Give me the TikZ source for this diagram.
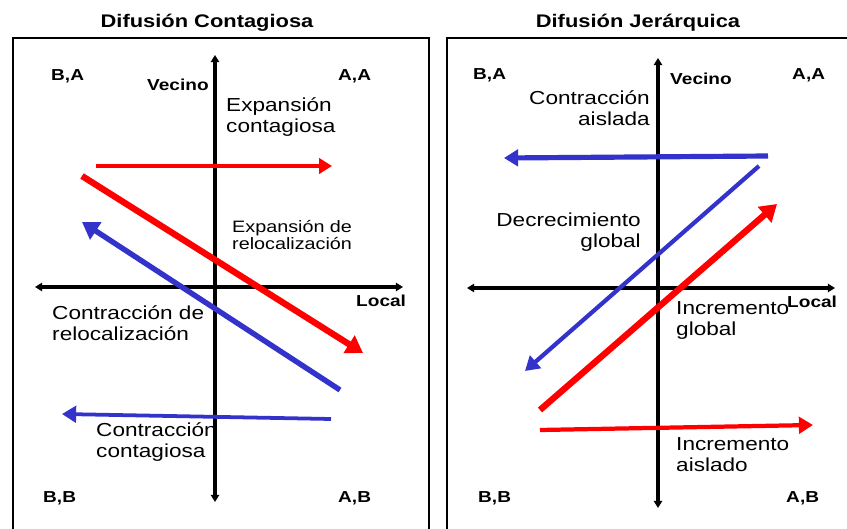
\documentclass[tikz,border=0pt]{standalone}
\usepackage{fontspec}
\setmainfont{Liberation Sans}[FakeStretch=1.2]
\usepackage{xcolor}
\usetikzlibrary{arrows.meta}
\definecolor{difred}{RGB}{255,0,0}
\definecolor{difblue}{RGB}{51,51,204}
\tikzset{
    panelline/.style={line width=1.8pt},
    axisline/.style={line width=2.8pt,{Triangle[length=6pt,width=7pt]}-{Triangle[length=6pt,width=7pt]}},
    cornerlabel/.style={anchor=base west,inner sep=0pt,font=\fontsize{13.5}{15}\bfseries\selectfont},
    titlelabel/.style={anchor=base,inner sep=0pt,font=\fontsize{15.5}{17}\bfseries\selectfont},
    biglabel/.style={inner sep=0pt,font=\fontsize{16}{18}\selectfont},
    smalllabel/.style={inner sep=0pt,font=\fontsize{14}{14.5}\selectfont},
    thinflow/.style={line width=2.6pt,-{Triangle[length=11pt,width=13pt]}},
    midflow/.style={line width=3.6pt,-{Triangle[length=12pt,width=14pt]}},
    thickflow/.style={line width=5.4pt,-{Triangle[length=14pt,width=17pt]}}
}
\begin{document}
\begin{tikzpicture}[x=0.85pt,y=-0.85pt]
    \useasboundingbox (0,0) rectangle (847,529);
    % panels
    \draw[panelline] (13,529) -- (13,38) -- (429,38) -- (429,529);
    \draw[panelline] (447,529) -- (447,38) -- (847,38);
    \node[titlelabel] (tcont) at (207,28) {Difusión Contagiosa};
    \node[titlelabel] (tjer) at (638,28) {Difusión Jerárquica};
    % axes
    \coordinate (lvtop) at (215,55);
    \coordinate (lvbot) at (215,502);
    \coordinate (lhl) at (35,287);
    \coordinate (lhr) at (403,287);
    \coordinate (rvtop) at (658,58);
    \coordinate (rvbot) at (658,508);
    \coordinate (rhl) at (467,288);
    \coordinate (rhr) at (835,288);
    \draw[axisline] (lvbot) -- (lvtop);
    \draw[axisline] (lhl) -- (lhr);
    \draw[axisline] (rvbot) -- (rvtop);
    \draw[axisline] (rhl) -- (rhr);
    % corners and axis names
    \node[cornerlabel] (lba) at (51,81) {B,A};
    \node[cornerlabel] (laa) at (338,81) {A,A};
    \node[cornerlabel] (lbb) at (43,503) {B,B};
    \node[cornerlabel] (lab) at (338,503) {A,B};
    \node[cornerlabel] (lvec) at (147,91) {Vecino};
    \node[cornerlabel] (lloc) at (356,307) {Local};
    \node[cornerlabel] (rba) at (473,80) {B,A};
    \node[cornerlabel] (raa) at (792,80) {A,A};
    \node[cornerlabel] (rbb) at (478,503) {B,B};
    \node[cornerlabel] (rab) at (786,503) {A,B};
    \node[cornerlabel] (rvec) at (670,85) {Vecino};
    \node[cornerlabel] (rloc) at (787,308) {Local};
    % flows, contagiosa
    \coordinate (expcs) at (96,166);
    \coordinate (expce) at (332,166);
    \coordinate (exprs) at (82,176);
    \coordinate (expre) at (363,353);
    \coordinate (conrs) at (340,390);
    \coordinate (conre) at (82,222);
    \coordinate (concs) at (331,419);
    \coordinate (conce) at (62,414);
    \draw[thinflow,difred] (expcs) -- (expce);
    \draw[thickflow,difred] (exprs) -- (expre);
    \draw[thickflow,difblue,line width=4.6pt] (conrs) -- (conre);
    \draw[midflow,difblue,line width=3.2pt] (concs) -- (conce);
    % flows, jerarquica
    \coordinate (conas) at (768,156);
    \coordinate (conae) at (504,158);
    \coordinate (decgs) at (759,166);
    \coordinate (decge) at (525,371);
    \coordinate (incgs) at (540,410);
    \coordinate (incge) at (777,204);
    \coordinate (incas) at (540,430);
    \coordinate (incae) at (813,425);
    \draw[midflow,difblue,line width=4.4pt] (conas) -- (conae);
    \draw[midflow,difblue] (decgs) -- (decge);
    \draw[thickflow,difred] (incgs) -- (incge);
    \draw[midflow,difred] (incas) -- (incae);
    % flow names (base anchor sits on the last line)
    \node[biglabel,anchor=base west,align=left] (nexpc) at (226,133) {Expansión\\contagiosa};
    \node[smalllabel,anchor=base west,align=left] (nexpr) at (232,250) {Expansión de\\relocalización};
    \node[biglabel,anchor=base west,align=left] (nconr) at (52,341) {Contracción de\\relocalización};
    \node[biglabel,anchor=base west,align=left] (nconc) at (96,458) {Contracción\\contagiosa};
    \node[biglabel,anchor=base east,align=right] (ncona) at (650,126) {Contracción\\aislada};
    \node[biglabel,anchor=base east,align=right] (ndecg) at (641,248) {Decrecimiento\\global};
    \node[biglabel,anchor=base west,align=left] (nincg) at (676,336) {Incremento\\global};
    \node[biglabel,anchor=base west,align=left] (ninca) at (676,472) {Incremento\\aislado};
\end{tikzpicture}
\end{document}
